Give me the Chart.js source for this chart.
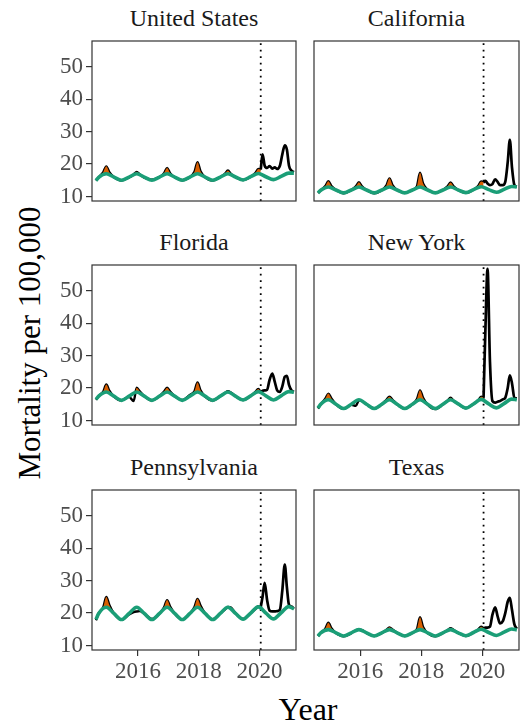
<!DOCTYPE html>
<html>
<head>
<meta charset="utf-8">
<script src="https://cdn.jsdelivr.net/npm/chart.js@4.4.1/dist/chart.umd.min.js"></script>
<style>
  body { margin: 0; background: #fff; width: 521px; height: 726px; position: relative; overflow: hidden; font-family: "Liberation Serif", "DejaVu Serif", serif; }
  canvas { position: absolute; }
  .title { position: absolute; text-align: center; font-size: 24px; line-height: 28px; color: #1a1a1a; }
  .axis-title { position: absolute; font-size: 31px; color: #000; white-space: nowrap; transform: translate(-50%, -50%); }
</style>
</head>
<body>
<div class="axis-title" style="left:30px; top:343px; transform: translate(-50%, -50%) rotate(-90deg);">Mortality per 100,000</div>
<div class="axis-title" style="left:308px; top:709px; font-size:32px;">Year</div>
<script>
// panel names and axis ticks
const states = ['United States', 'California', 'Florida', 'New York', 'Pennsylvania', 'Texas'];
const yearTicks = [2016, 2018, 2020];
const rateTicks = [10, 20, 30, 40, 50];
const yearRange = [2014.49, 2021.2];
const rateRange = [8.6, 58];
const covidStart = 2020.04;

// time points (decimal years)
const tExpected = [2014.62, 2014.71,
  2014.96, 2015.21, 2015.46, 2015.71, 2015.96, 2016.21, 2016.46, 2016.71,
  2016.96, 2017.21, 2017.46, 2017.71, 2017.96, 2018.21, 2018.46, 2018.71,
  2018.96, 2019.21, 2019.46, 2019.71, 2019.96, 2020.21, 2020.46, 2020.71,
  2020.96, 2021.13];
const tPre = [2014.62, 2014.71,
  2014.86, 2014.96, 2015.06, 2015.21, 2015.46, 2015.71,
  2015.86, 2015.96, 2016.06, 2016.21, 2016.46, 2016.71,
  2016.86, 2016.96, 2017.06, 2017.21, 2017.46, 2017.71,
  2017.86, 2017.96, 2018.06, 2018.21, 2018.46, 2018.71,
  2018.86, 2018.96, 2019.06, 2019.21, 2019.46, 2019.71,
  2019.86, 2019.96, 2020.04];
const tPost = [2020.04, 2020.1, 2020.17, 2020.25, 2020.33, 2020.42, 2020.5, 2020.58,
  2020.67, 2020.75, 2020.83, 2020.9, 2020.97, 2021.05, 2021.13];

// expected (green), observed before and after March 2020 (black)
const expectedUS = [14.9, 15.9, 17.0, 16.0, 15.0, 16.0, 17.0, 16.0, 15.0, 16.0, 17.0, 16.0, 15.0, 16.0, 17.0, 16.0, 15.0, 16.0, 17.0, 16.0, 15.1, 16.1, 17.1, 16.1, 15.2, 16.2, 17.2, 17.2];
const preUS = [14.9, 15.9,
  17.5, 19.3, 17.5, 16.0, 14.9, 15.9,
  16.8, 17.6, 16.8, 15.8, 15.2, 16.0,
  17.2, 18.8, 17.2, 15.9, 15.0, 16.0,
  17.6, 20.6, 17.8, 16.0, 14.9, 16.0,
  17.0, 18.0, 17.0, 16.0, 15.1, 16.1,
  17.2, 18.5, 18.3];
const postUS = [18.3, 23.0, 19.5, 18.8, 19.4, 18.6, 19.0, 18.5, 19.5, 23.0, 25.8, 24.5, 19.5, 18.0, 17.5];

const expectedCA = [11.1, 11.9, 12.9, 12.0, 11.1, 12.0, 12.9, 12.0, 11.1, 12.0, 12.9, 12.0, 11.1, 12.0, 12.9, 12.0, 11.1, 12.0, 12.9, 12.0, 11.2, 12.1, 13.0, 12.1, 11.3, 12.2, 13.1, 12.9];
const preCA = [11.1, 11.9,
  13.2, 14.7, 13.2, 12.0, 11.0, 12.0,
  13.1, 14.4, 13.1, 12.0, 11.0, 11.9,
  13.4, 15.6, 13.5, 12.0, 11.1, 12.0,
  13.2, 17.3, 14.0, 12.1, 11.1, 12.0,
  13.1, 14.3, 13.1, 12.0, 11.1, 12.1,
  13.2, 14.6, 14.3];
const postCA = [14.3, 14.8, 14.0, 13.5, 13.8, 15.3, 14.5, 13.5, 13.5, 14.5, 20.5, 27.5, 19.0, 13.5, 13.0];

const expectedFL = [16.5, 17.5, 18.8, 17.5, 16.2, 17.5, 18.8, 17.5, 16.2, 17.5, 18.8, 17.5, 16.2, 17.5, 18.8, 17.5, 16.2, 17.5, 18.8, 17.5, 16.3, 17.6, 18.9, 17.6, 16.3, 17.6, 18.9, 18.7];
const preFL = [16.4, 17.5,
  18.9, 21.1, 19.2, 17.4, 16.2, 17.3,
  16.0, 20.1, 19.0, 17.5, 16.2, 17.5,
  18.9, 20.1, 18.9, 17.5, 16.3, 17.9,
  19.0, 21.7, 19.3, 17.4, 16.2, 17.5,
  18.5, 19.0, 18.6, 17.5, 16.3, 17.6,
  18.8, 19.7, 18.8];
const postFL = [18.8, 19.2, 19.3, 19.5, 22.5, 24.5, 22.0, 19.3, 18.8, 20.5, 23.5, 23.8, 21.0, 19.3, 18.8];

const expectedNY = [13.8, 15.0, 16.4, 15.0, 13.7, 15.0, 16.4, 15.0, 13.7, 15.0, 16.4, 15.0, 13.7, 15.0, 16.4, 15.0, 13.7, 15.0, 16.4, 15.1, 13.8, 15.1, 16.5, 15.1, 13.9, 15.2, 16.6, 16.4];
const preNY = [13.7, 15.0,
  16.7, 18.3, 16.8, 15.0, 13.6, 14.8,
  14.5, 16.2, 16.0, 15.0, 13.7, 15.0,
  16.4, 17.3, 16.4, 15.0, 13.7, 15.0,
  16.6, 19.3, 17.0, 14.9, 13.5, 15.0,
  16.1, 17.0, 16.1, 15.1, 13.8, 15.1,
  16.2, 17.3, 17.0];
const postNY = [17.0, 38.0, 56.8, 28.0, 16.0, 15.5, 15.8, 16.0, 16.5, 17.0, 20.0, 23.9, 21.5, 17.0, 16.8];

const expectedPA = [18.0, 19.9, 21.8, 19.9, 18.0, 19.9, 21.8, 19.9, 18.0, 19.9, 21.8, 19.9, 18.0, 19.9, 21.8, 19.9, 18.0, 19.9, 21.8, 19.9, 18.1, 20.0, 21.9, 20.0, 18.2, 20.1, 22.0, 21.3];
const prePA = [17.8, 19.9,
  21.8, 25.0, 22.5, 19.9, 17.9, 19.6,
  20.3, 20.5, 20.6, 19.8, 18.2, 19.8,
  21.8, 24.0, 22.0, 19.9, 18.0, 19.8,
  21.9, 24.4, 22.3, 19.9, 18.1, 19.9,
  21.1, 21.9, 21.7, 20.0, 18.2, 20.0,
  21.2, 22.1, 21.8];
const postPA = [21.8, 25.0, 29.3, 24.0, 20.8, 20.5, 20.5, 20.6, 21.0, 27.0, 35.0, 28.0, 22.5, 22.0, 21.3];

const expectedTX = [12.9, 13.9, 14.9, 13.9, 12.9, 13.9, 14.9, 13.9, 12.9, 13.9, 14.9, 13.9, 12.9, 13.9, 14.9, 13.9, 12.9, 13.9, 14.9, 13.9, 13.0, 14.0, 15.0, 14.0, 13.1, 14.1, 15.1, 14.8];
const preTX = [12.9, 13.9,
  15.2, 17.0, 15.3, 13.8, 12.8, 13.8,
  14.7, 14.9, 14.7, 13.9, 12.9, 13.9,
  14.8, 15.6, 14.9, 13.9, 12.9, 13.9,
  15.1, 18.7, 15.7, 13.8, 12.8, 13.9,
  14.7, 15.3, 14.8, 13.9, 12.9, 14.0,
  14.9, 15.8, 15.3];
const postTX = [15.3, 15.5, 15.5, 15.8, 19.5, 21.8, 19.0, 16.8, 17.5, 20.0, 23.5, 24.7, 21.0, 16.5, 15.2];

const panels = [
  [expectedUS, preUS, postUS],
  [expectedCA, preCA, postCA],
  [expectedFL, preFL, postFL],
  [expectedNY, preNY, postNY],
  [expectedPA, prePA, postPA],
  [expectedTX, preTX, postTX]
];

Chart.defaults.font.family = '"Liberation Serif", "DejaVu Serif", serif';

const green = '#1B9E77';
const orange = '#D95F02';

// panel border (like ggplot panel.border)
const panelBorder = {
  id: 'panelBorder',
  afterDraw(chart) {
    const { ctx, chartArea: a } = chart;
    ctx.save();
    ctx.strokeStyle = '#333333';
    ctx.lineWidth = 1.2;
    ctx.strokeRect(a.left, a.top, a.right - a.left, a.bottom - a.top);
    ctx.restore();
  }
};

const pts = (xs, ys) => xs.map((x, i) => ({ x: x, y: ys[i] }));

const colLeft = [92, 314], colRight = [296, 519], rowTop = [41, 265, 490];
const panelH = 160, yAxisW = 62, xAxisH = 44;

// keep the plot area fixed: no extra room for end labels
const noPad = s => { s.paddingTop = 0; s.paddingBottom = 0; s.paddingLeft = 0; s.paddingRight = 0; };

panels.forEach((p, i) => {
  const col = i % 2, row = Math.floor(i / 2);
  const showY = col === 0, showX = row === 2;

  const title = document.createElement('div');
  title.className = 'title';
  title.style.left = colLeft[col] + 'px';
  title.style.width = (colRight[col] - colLeft[col]) + 'px';
  title.style.top = (rowTop[row] - 37) + 'px';
  title.textContent = states[i];
  document.body.appendChild(title);

  const cv = document.createElement('canvas');
  const left = colLeft[col] - (showY ? yAxisW : 2);
  const w = colRight[col] + 2 - left;
  const h = 4 + panelH + (showX ? xAxisH : 4);
  cv.width = w; cv.height = h;
  cv.style.left = left + 'px';
  cv.style.top = (rowTop[row] - 4) + 'px';
  document.body.appendChild(cv);

  const line = { pointRadius: 0, cubicInterpolationMode: 'monotone' };

  new Chart(cv.getContext('2d'), {
    type: 'line',
    data: {
      datasets: [
        // expected, on top
        { ...line, data: pts(tExpected, p[0]), borderColor: green, borderWidth: 3.6, fill: false },
        // excess deaths before the pandemic, filled over the black line
        { ...line, data: pts(tPre, p[1]), borderColor: 'rgba(0,0,0,0)', borderWidth: 0,
          fill: { target: 0, above: orange, below: 'rgba(0,0,0,0)' } },
        { ...line, data: pts(tPre, p[1]), borderColor: '#000', borderWidth: 2.4, fill: false },
        { ...line, data: pts(tPost, p[2]), borderColor: '#000', borderWidth: 2.7, fill: false },
        { data: [{ x: covidStart, y: rateRange[0] }, { x: covidStart, y: rateRange[1] }], borderColor: '#000', borderWidth: 1.8,
          borderDash: [1.8, 4.7], pointRadius: 0, fill: false }
      ]
    },
    options: {
      responsive: false,
      animation: false,
      devicePixelRatio: 1,
      layout: { padding: { left: showY ? 0 : 2, right: 2, top: 4, bottom: showX ? 0 : 4 } },
      plugins: { legend: { display: false }, tooltip: { enabled: false } },
      scales: {
        x: {
          type: 'linear', min: yearRange[0], max: yearRange[1], display: showX,
          afterBuildTicks: ax => { ax.ticks = yearTicks.map(v => ({ value: v })); },
          afterFit: s => { noPad(s); if (showX) s.height = xAxisH; },
          grid: { drawOnChartArea: false, drawTicks: true, tickLength: 6, color: '#333333', lineWidth: 1.2 },
          border: { display: false },
          ticks: { color: '#4d4d4d', font: { size: 23 }, padding: 2, maxRotation: 0, autoSkip: false, callback: v => String(v) }
        },
        y: {
          type: 'linear', min: rateRange[0], max: rateRange[1], display: showY,
          afterBuildTicks: ax => { ax.ticks = rateTicks.map(v => ({ value: v })); },
          afterFit: s => { noPad(s); if (showY) s.width = yAxisW; },
          grid: { drawOnChartArea: false, drawTicks: true, tickLength: 6, color: '#333333', lineWidth: 1.2 },
          border: { display: false },
          ticks: { color: '#4d4d4d', font: { size: 23 }, padding: 3, autoSkip: false, callback: v => String(v) }
        }
      }
    },
    plugins: [panelBorder]
  });
});
</script>
</body>
</html>
